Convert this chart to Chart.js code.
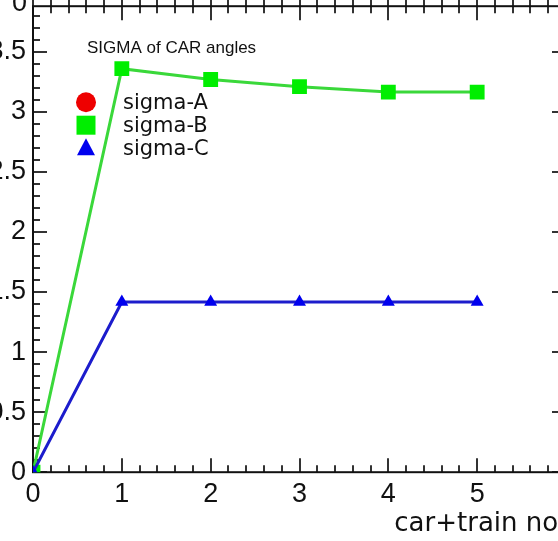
<!DOCTYPE html>
<html>
<head>
<meta charset="utf-8">
<script src="https://cdn.jsdelivr.net/npm/chart.js@4.4.1/dist/chart.umd.min.js"></script>
<style>
  html, body { margin: 0; padding: 0; background: #fff; overflow: hidden; }
  #wrap { position: relative; width: 558px; height: 541px; overflow: hidden; background: #fff; }
  #chart { position: absolute; left: 0; top: 0; }
</style>
</head>
<body>
<div id="wrap"><canvas id="chart" width="623" height="554"></canvas></div>
<script>
// valores
const carTrain = [0, 1, 2, 3, 4, 5];
const sigmaA = []; // no se ve en el grafico
const sigmaB = [0, 3.36, 3.27, 3.21, 3.165, 3.165];
const sigmaC = [0, 1.417, 1.417, 1.417, 1.417, 1.417];
const seriesNames = ['sigma-A', 'sigma-B', 'sigma-C'];
const yTicks = [0, 0.5, 1, 1.5, 2, 2.5, 3, 3.5];
const xTicks = [0, 1, 2, 3, 4, 5, 6];
const legendTitle = 'SIGMA of CAR angles';
const xTitle = 'car+train no.';

function puntos(ys) {
    return ys.map((y, i) => ({ x: carTrain[i], y: y }));
}

// marco estilo ROOT con ticks hacia adentro
const marcoRoot = {
    id: 'marcoRoot',
    beforeDatasetsDraw(chart) {
        const ctx = chart.ctx, a = chart.chartArea;
        const sx = chart.scales.x, sy = chart.scales.y;
        ctx.save();
        ctx.strokeStyle = '#333';
        ctx.lineWidth = 2;
        ctx.beginPath();
        for (let i = 0; i <= 30; i++) {
            const v = i / 5;
            const px = Math.round(sx.getPixelForValue(v));
            const len = (i % 5 === 0) ? 14 : 7;
            ctx.moveTo(px, a.bottom); ctx.lineTo(px, a.bottom - len);
            ctx.moveTo(px, a.top - 8); ctx.lineTo(px, a.top + len);
        }
        for (let i = 0; i <= 38; i++) {
            const v = i / 10;
            const py = Math.round(sy.getPixelForValue(v));
            const len = (i % 5 === 0) ? 14 : 7;
            ctx.moveTo(a.left, py); ctx.lineTo(a.left + len, py);
            ctx.moveTo(a.right, py); ctx.lineTo(a.right - len, py);
        }
        ctx.stroke();
        ctx.lineWidth = 2;
        ctx.strokeStyle = '#111';
        ctx.strokeRect(a.left, a.top, a.right - a.left, a.bottom - a.top);
        // etiqueta del panel de arriba
        ctx.fillStyle = '#111';
        ctx.font = '27px "Liberation Sans"';
        ctx.textAlign = 'right';
        ctx.textBaseline = 'middle';
        ctx.fillText('0', a.left - 6, a.top - 3);
        ctx.restore();
    },
    afterDatasetsDraw(chart) {
        const ctx = chart.ctx, a = chart.chartArea;
        ctx.save();
        ctx.fillStyle = '#111';
        ctx.font = '17px "Liberation Sans"';
        ctx.textAlign = 'left';
        ctx.textBaseline = 'middle';
        ctx.fillText(legendTitle, a.left + 54, a.top + 42);
        const orden = [0, 1, 2];
        orden.forEach((idx, i) => {
            const ds = chart.data.datasets.find(d => d.label === seriesNames[idx]);
            const y = a.top + 96 + i * 23;
            const x = a.left + 53;
            ctx.fillStyle = ds.pointBackgroundColor;
            ctx.beginPath();
            if (ds.pointStyle === 'circle') {
                ctx.arc(x, y, 10, 0, Math.PI * 2);
            } else if (ds.pointStyle === 'rect') {
                ctx.rect(x - 9.5, y - 9.5, 19, 19);
            } else {
                ctx.moveTo(x, y - 10); ctx.lineTo(x + 9, y + 7); ctx.lineTo(x - 9, y + 7); ctx.closePath();
            }
            ctx.fill();
            ctx.fillStyle = '#111';
            ctx.font = '21px "DejaVu Sans"';
            ctx.fillText(seriesNames[idx], a.left + 90, y + 1);
        });
        ctx.restore();
    }
};

const canvas = document.getElementById('chart');
const chart = new Chart(canvas.getContext('2d'), {
    type: 'line',
    data: {
        datasets: [
            {
                label: seriesNames[2],
                data: puntos(sigmaC),
                borderColor: '#1c1ccc',
                borderWidth: 3,
                pointStyle: 'triangle',
                pointRadius: 7.5,
                pointBackgroundColor: '#0000ee',
                pointBorderWidth: 0,
                tension: 0,
                order: 0
            },
            {
                label: seriesNames[1],
                data: puntos(sigmaB),
                borderColor: '#3ad83a',
                borderWidth: 3,
                pointStyle: 'rect',
                pointRadius: 10.5,
                pointBackgroundColor: '#00ee00',
                pointBorderWidth: 0,
                tension: 0,
                order: 1
            },
            {
                label: seriesNames[0],
                data: puntos(sigmaA),
                borderColor: '#ee0000',
                borderWidth: 3,
                pointStyle: 'circle',
                pointRadius: 8,
                pointBackgroundColor: '#ee0000',
                pointBorderWidth: 0,
                order: 2
            }
        ]
    },
    options: {
        responsive: false,
        maintainAspectRatio: false,
        animation: false,
        layout: { padding: { top: 20, right: 20, left: 0, bottom: 0 } },
        plugins: { legend: { display: false }, tooltip: { enabled: false } },
        scales: {
            x: {
                type: 'linear',
                min: 0,
                max: 6,
                afterBuildTicks: s => { s.ticks = xTicks.map(v => ({ value: v })); },
                afterFit: s => { s.height = 68; },
                grid: { display: false, drawTicks: false },
                border: { display: false },
                ticks: {
                    color: '#111',
                    padding: 6,
                    maxRotation: 0,
                    font: { family: 'Liberation Sans', size: 27 },
                    callback: v => String(v)
                },
                title: {
                    display: true,
                    text: xTitle,
                    align: 'end',
                    color: '#111',
                    padding: 0,
                    font: { family: 'DejaVu Sans', size: 26 }
                }
            },
            y: {
                type: 'linear',
                min: 0,
                max: 3.88,
                afterBuildTicks: s => { s.ticks = yTicks.map(v => ({ value: v })); },
                afterFit: s => { s.width = 70; },
                grid: { display: false, drawTicks: false },
                border: { display: false },
                ticks: {
                    color: '#111',
                    padding: 7,
                    font: { family: 'Liberation Sans', size: 27 },
                    callback: v => String(v)
                }
            }
        }
    },
    plugins: [marcoRoot]
});

// ajustar el tamaño para que el area quede igual que en la imagen
const a0 = chart.chartArea;
const dw = 533 - (a0.right - a0.left);
const dh = 466 - (a0.bottom - a0.top);
if (dw !== 0 || dh !== 0) {
    chart.resize(canvas.width + dw, canvas.height + dh);
    chart.update();
}
const a1 = chart.chartArea;
canvas.style.left = (33 - a1.left) + 'px';
canvas.style.top = (6 - a1.top) + 'px';
</script>
</body>
</html>
